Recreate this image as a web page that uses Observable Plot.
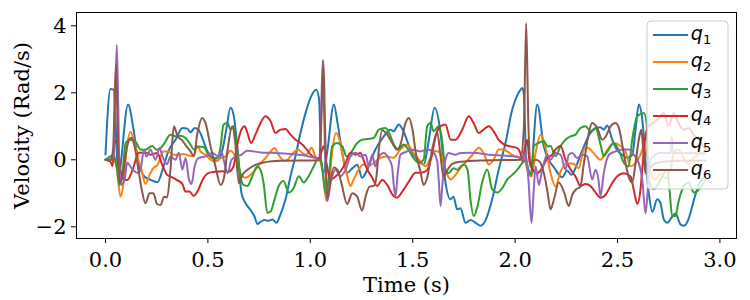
<!DOCTYPE html>
<html><head><meta charset="utf-8">
<script src="https://cdn.jsdelivr.net/npm/d3@7"></script>
<script src="https://cdn.jsdelivr.net/npm/@observablehq/plot@0.6"></script>
<style>body{margin:0;background:#fff;}</style>
</head><body><div id="chart"></div>
<script>
const names = ["q1","q2","q3","q4","q5","q6"];
const colors = ["#1f77b4","#ff7f0e","#2ca02c","#d62728","#9467bd","#8c564b"];
const xTicks = [0,0.5,1,1.5,2,2.5,3];
const yTicks = [-2,0,2,4];

const q1 = [[0,0.16],[0.024,2.11],[0.039,2.10],[0.063,-0.45],[0.110,1.65],[0.137,0.9],[0.161,-0.1],[0.190,-0.5],[0.220,-0.6],[0.254,-0.67],[0.283,-0.2],[0.308,0.27],[0.342,0.6],[0.376,0.95],[0.400,0.93],[0.415,0.82],[0.435,0.95],[0.454,0.9],[0.479,0.55],[0.498,0.25],[0.522,0.05],[0.547,-0.03],[0.571,0.3],[0.591,0.95],[0.610,1.55],[0.625,1.35],[0.643,0.42],[0.664,-1.0],[0.684,-1.3],[0.708,-1.5],[0.728,-1.7],[0.742,-1.92],[0.757,-1.85],[0.776,-1.8],[0.796,-1.82],[0.815,-1.78],[0.835,-1.88],[0.850,-1.7],[0.879,-1.18],[0.903,-0.5],[0.928,0.12],[0.952,0.8],[0.977,1.4],[1.001,1.85],[1.029,2.09],[1.043,1.8],[1.052,0.0],[1.064,-0.4],[1.084,0.3],[1.115,1.65],[1.133,1.1],[1.156,0.2],[1.180,-0.39],[1.206,-0.25],[1.229,-0.15],[1.253,-0.54],[1.274,-0.35],[1.310,0.21],[1.359,0.7],[1.392,0.9],[1.406,0.85],[1.432,1.05],[1.455,0.85],[1.489,0.31],[1.522,0.01],[1.554,-0.14],[1.579,0.6],[1.607,1.55],[1.636,0.8],[1.660,-0.68],[1.685,-1.18],[1.699,-1.1],[1.717,-1.48],[1.733,-1.45],[1.758,-1.88],[1.782,-1.8],[1.807,-1.88],[1.831,-1.97],[1.856,-1.8],[1.888,-1.18],[1.920,-0.29],[1.953,0.5],[1.986,1.5],[2.002,1.8],[2.026,2.09],[2.035,2.14],[2.043,1.95],[2.054,0.0],[2.075,-0.4],[2.108,1.65],[2.140,0.41],[2.157,0.08],[2.189,-0.22],[2.230,-0.52],[2.254,-0.32],[2.275,-0.45],[2.303,-0.12],[2.328,0.28],[2.360,0.72],[2.388,0.92],[2.417,0.97],[2.432,0.9],[2.450,1.02],[2.474,0.6],[2.499,0.28],[2.523,0.15],[2.547,0.06],[2.572,0.15],[2.588,0.9],[2.604,1.65],[2.621,1.2],[2.637,0.0],[2.653,-1.0],[2.670,-1.55],[2.694,-1.18],[2.710,-1.3],[2.726,-1.78],[2.743,-1.88],[2.767,-1.7],[2.783,-1.6],[2.808,-1.93],[2.824,-1.97],[2.848,-1.75],[2.865,-1.38],[2.881,-1.03],[2.896,-0.75],[2.930,-0.5]];

const q2 = [[0,0],[0.039,0.0],[0.054,-0.2],[0.073,-1.1],[0.088,-0.7],[0.103,0.3],[0.122,0.83],[0.142,0.5],[0.161,0.0],[0.176,-0.3],[0.195,-0.72],[0.215,-0.45],[0.234,-0.25],[0.254,-0.15],[0.283,0.25],[0.308,0.25],[0.332,0.15],[0.356,0.15],[0.381,0.17],[0.405,0.13],[0.430,0.1],[0.449,0.41],[0.464,0.25],[0.488,0.15],[0.513,0.0],[0.537,-0.05],[0.562,0.05],[0.586,0.1],[0.610,0.27],[0.625,0.2],[0.645,-0.1],[0.664,-0.45],[0.684,-0.54],[0.708,-0.45],[0.732,-0.3],[0.757,-0.1],[0.781,0.05],[0.806,0.25],[0.825,0.35],[0.845,0.15],[0.864,0.0],[0.879,-0.03],[0.903,0.1],[0.923,0.25],[0.942,0.3],[0.962,0.2],[0.981,0.15],[1.006,0.36],[1.025,0.1],[1.045,0.0],[1.059,-0.3],[1.079,-1.23],[1.093,-0.6],[1.108,0.3],[1.126,0.8],[1.142,0.6],[1.162,0.0],[1.181,-0.5],[1.196,-0.78],[1.211,-0.6],[1.235,-0.3],[1.260,-0.14],[1.279,-0.2],[1.309,-0.1],[1.343,0.06],[1.377,0.1],[1.406,0.06],[1.440,0.31],[1.473,0.46],[1.504,0.2],[1.538,-0.05],[1.563,-0.19],[1.587,0.05],[1.611,0.26],[1.636,0.2],[1.660,-0.3],[1.685,-0.59],[1.709,-0.45],[1.733,-0.25],[1.763,-0.05],[1.792,0.15],[1.823,0.36],[1.846,0.2],[1.872,-0.14],[1.895,0.0],[1.920,0.31],[1.943,0.31],[1.983,0.15],[2.026,0.05],[2.046,0.0],[2.060,-0.3],[2.080,-0.5],[2.100,0.2],[2.124,0.75],[2.148,0.4],[2.173,-0.4],[2.197,-0.8],[2.222,-0.35],[2.251,-0.1],[2.285,-0.12],[2.310,-0.25],[2.336,0.31],[2.354,0.36],[2.383,0.2],[2.417,0.0],[2.446,0.25],[2.482,0.5],[2.515,0.41],[2.539,0.25],[2.564,-0.19],[2.588,-0.1],[2.612,0.15],[2.629,0.41],[2.647,0.1],[2.661,-0.39],[2.686,-0.59],[2.710,-0.4],[2.734,-0.55],[2.759,-0.3],[2.775,0.21],[2.798,0.31],[2.823,0.05],[2.847,-0.15],[2.871,0.05],[2.905,0.2],[2.930,0.25]];

const q3 = [[0,0],[0.024,0.1],[0.039,0.15],[0.054,-0.2],[0.068,-0.75],[0.083,-0.4],[0.098,0.5],[0.122,0.6],[0.146,0.55],[0.171,0.31],[0.195,0.3],[0.228,0.41],[0.249,0.3],[0.269,0.35],[0.285,0.47],[0.317,0.75],[0.342,0.7],[0.366,0.72],[0.391,0.65],[0.415,0.45],[0.431,0.31],[0.454,0.4],[0.479,0.38],[0.503,0.15],[0.527,0.05],[0.547,0.05],[0.562,0.4],[0.576,1.05],[0.596,1.1],[0.610,0.9],[0.625,1.0],[0.640,0.5],[0.659,-0.5],[0.674,-0.75],[0.693,-0.78],[0.713,-0.55],[0.741,-0.2],[0.757,-0.3],[0.772,-0.7],[0.790,-1.58],[0.806,-1.55],[0.820,-1.3],[0.846,-0.78],[0.869,-0.63],[0.895,-0.98],[0.918,-0.85],[0.944,-0.49],[0.968,-0.68],[0.991,-0.5],[1.017,-0.19],[1.040,0.05],[1.055,-0.1],[1.074,-0.98],[1.089,-0.6],[1.107,0.41],[1.131,0.5],[1.156,0.41],[1.177,0.1],[1.196,0.2],[1.229,0.5],[1.253,0.6],[1.278,0.62],[1.309,0.65],[1.335,0.9],[1.367,0.95],[1.392,0.7],[1.408,0.46],[1.431,0.31],[1.455,0.46],[1.479,0.3],[1.504,0.05],[1.530,-0.09],[1.553,0.0],[1.571,1.0],[1.587,1.1],[1.602,0.85],[1.626,1.0],[1.641,0.7],[1.660,-0.29],[1.675,-0.4],[1.699,-0.25],[1.719,-0.3],[1.733,-0.2],[1.750,-0.14],[1.768,-0.3],[1.782,-1.18],[1.798,-1.68],[1.816,-1.4],[1.839,-0.68],[1.864,-0.29],[1.888,-0.88],[1.913,-0.98],[1.937,-0.85],[1.961,-0.59],[1.986,-0.45],[2.010,-0.3],[2.035,-0.1],[2.051,0.0],[2.065,-0.3],[2.080,-0.45],[2.091,0.41],[2.114,0.5],[2.140,0.56],[2.158,0.4],[2.173,0.41],[2.197,0.11],[2.222,0.41],[2.246,0.6],[2.271,0.7],[2.295,0.75],[2.319,0.95],[2.344,1.0],[2.368,0.85],[2.393,0.95],[2.417,0.46],[2.433,0.11],[2.456,0.3],[2.481,0.5],[2.505,0.3],[2.531,-0.09],[2.554,-0.2],[2.572,0.6],[2.596,1.3],[2.629,1.4],[2.642,1.1],[2.653,-0.59],[2.677,-0.88],[2.710,-0.6],[2.743,-0.29],[2.754,-0.9],[2.767,-1.68],[2.783,-1.68],[2.798,-1.25],[2.823,-0.8],[2.848,-0.68],[2.873,-0.98],[2.896,-0.9],[2.930,-0.59]];

const q4 = [[0,0],[0.024,-0.05],[0.034,-0.19],[0.046,0.55],[0.059,0.45],[0.073,-0.3],[0.093,-0.6],[0.107,-0.6],[0.132,-0.3],[0.163,0.21],[0.195,0.22],[0.220,0.15],[0.252,0.2],[0.277,-0.15],[0.301,-0.45],[0.317,-0.5],[0.347,-0.6],[0.375,-0.72],[0.391,-0.95],[0.410,-0.95],[0.431,-1.08],[0.449,-0.95],[0.474,-0.6],[0.504,-0.39],[0.537,-0.36],[0.570,-0.34],[0.601,-0.36],[0.625,-0.2],[0.645,0.5],[0.668,0.95],[0.679,1.0],[0.693,0.8],[0.710,0.5],[0.732,0.75],[0.757,1.1],[0.781,1.3],[0.806,1.15],[0.830,0.8],[0.855,0.9],[0.879,0.92],[0.903,0.75],[0.928,0.6],[0.952,0.5],[0.977,0.35],[1.001,0.16],[1.025,0.05],[1.045,0.03],[1.055,0.25],[1.066,0.41],[1.079,-0.1],[1.099,-0.59],[1.123,-0.5],[1.147,-0.35],[1.172,-0.1],[1.196,0.21],[1.221,0.15],[1.245,0.2],[1.260,0.0],[1.278,-0.29],[1.299,-0.5],[1.327,-0.78],[1.351,-0.6],[1.376,-0.75],[1.400,-1.03],[1.424,-1.13],[1.449,-0.95],[1.481,-0.65],[1.514,-0.39],[1.546,-0.38],[1.571,-0.3],[1.592,0.1],[1.616,0.8],[1.636,1.0],[1.660,1.05],[1.685,0.6],[1.709,0.6],[1.742,0.9],[1.774,1.3],[1.797,1.1],[1.823,0.8],[1.846,0.9],[1.872,1.0],[1.895,0.85],[1.919,0.6],[1.945,0.46],[1.978,0.4],[2.010,0.35],[2.026,0.2],[2.036,-0.05],[2.046,0.3],[2.059,0.6],[2.070,-0.05],[2.084,-0.29],[2.108,-0.4],[2.132,-0.25],[2.157,0.05],[2.181,0.15],[2.197,0.3],[2.222,0.41],[2.246,0.0],[2.271,-0.29],[2.295,-0.5],[2.319,-0.78],[2.344,-0.72],[2.368,-0.78],[2.393,-0.98],[2.417,-1.13],[2.441,-1.05],[2.466,-0.78],[2.499,-0.49],[2.531,-0.4],[2.564,-0.5],[2.580,-0.92],[2.597,-1.32],[2.612,-0.9],[2.622,-0.2],[2.632,0.5],[2.647,0.96],[2.671,1.1],[2.696,1.2],[2.726,1.4],[2.749,1.0],[2.775,1.4],[2.798,1.1],[2.824,0.9],[2.847,0.95],[2.871,0.75],[2.896,0.6],[2.930,0.31]];

const q5 = [[0,0],[0.024,0.02],[0.039,0.1],[0.046,1.5],[0.055,3.43],[0.061,2.0],[0.068,-0.2],[0.076,-0.75],[0.093,-0.6],[0.106,-0.09],[0.127,-0.25],[0.155,-0.39],[0.171,-0.3],[0.187,0.27],[0.200,0.1],[0.220,0.3],[0.244,0.0],[0.264,0.35],[0.278,0.1],[0.301,-0.13],[0.317,0.1],[0.342,0.0],[0.358,0.21],[0.375,-0.29],[0.391,0.05],[0.408,-0.6],[0.420,-0.72],[0.435,-0.2],[0.454,0.05],[0.488,0.1],[0.522,0.2],[0.552,0.1],[0.562,0.31],[0.581,-0.1],[0.596,-0.4],[0.615,0.0],[0.640,0.1],[0.664,0.15],[0.692,0.27],[0.757,0.22],[0.830,0.2],[0.903,0.17],[0.977,0.12],[1.025,0.05],[1.045,0.0],[1.052,1.2],[1.061,2.99],[1.067,1.5],[1.074,-0.3],[1.083,-1.23],[1.099,-0.7],[1.123,-0.3],[1.147,-0.49],[1.172,-0.3],[1.196,0.1],[1.221,0.21],[1.245,0.1],[1.270,0.15],[1.286,-0.19],[1.302,0.15],[1.318,-0.2],[1.335,0.1],[1.359,0.2],[1.382,0.05],[1.399,-0.2],[1.408,-0.78],[1.416,-1.08],[1.427,-0.4],[1.440,0.15],[1.473,0.25],[1.504,0.3],[1.538,0.25],[1.571,0.31],[1.597,0.25],[1.620,-0.05],[1.627,-0.6],[1.636,-1.38],[1.644,-0.8],[1.660,0.0],[1.676,0.2],[1.709,0.15],[1.733,0.2],[1.791,0.21],[1.870,0.15],[1.953,0.12],[2.017,0.08],[2.036,0.0],[2.051,0.2],[2.065,-0.6],[2.080,-1.88],[2.091,-0.9],[2.100,-0.2],[2.116,-0.75],[2.132,-0.3],[2.157,0.15],[2.173,0.0],[2.197,0.2],[2.222,0.15],[2.246,-0.29],[2.262,0.15],[2.279,0.2],[2.303,0.05],[2.328,0.15],[2.352,0.1],[2.376,-0.59],[2.393,-0.3],[2.407,-0.6],[2.417,-1.08],[2.433,-0.4],[2.458,0.15],[2.490,0.25],[2.523,0.31],[2.555,0.31],[2.580,0.15],[2.604,-0.1],[2.621,-0.6],[2.637,-1.6],[2.649,-0.8],[2.661,0.0],[2.677,0.11],[2.710,0.21],[2.759,0.2],[2.764,0.7],[2.771,0.2],[2.808,0.2],[2.866,0.2],[2.930,0.18]];

const q6 = [[0,0],[0.024,-0.02],[0.037,0.3],[0.051,2.85],[0.061,0.5],[0.068,-0.7],[0.083,-0.5],[0.106,0.41],[0.125,0.66],[0.142,0.4],[0.163,-0.39],[0.179,-0.95],[0.195,-1.3],[0.215,-1.0],[0.234,-1.0],[0.252,-1.32],[0.269,-1.35],[0.286,-1.1],[0.301,-1.12],[0.317,-0.3],[0.334,1.0],[0.352,0.7],[0.371,0.6],[0.396,0.4],[0.415,0.25],[0.431,0.11],[0.449,0.8],[0.472,1.25],[0.488,1.1],[0.513,0.4],[0.537,-0.2],[0.562,-0.75],[0.578,-0.55],[0.596,0.3],[0.619,1.0],[0.632,0.6],[0.651,-0.7],[0.669,-0.45],[0.693,-0.3],[0.732,-0.15],[0.781,-0.07],[0.855,-0.03],[0.952,-0.02],[1.040,-0.02],[1.050,0.5],[1.064,2.95],[1.072,1.0],[1.083,-1.15],[1.099,-0.6],[1.115,-0.23],[1.133,-0.3],[1.152,-0.7],[1.180,-1.32],[1.205,-1.0],[1.229,-1.1],[1.253,-1.52],[1.270,-1.1],[1.289,-0.8],[1.310,-0.78],[1.323,-0.5],[1.333,0.2],[1.351,0.88],[1.376,0.75],[1.400,0.5],[1.424,0.3],[1.440,0.45],[1.465,1.1],[1.481,1.25],[1.499,0.9],[1.514,0.25],[1.538,-0.35],[1.553,-0.75],[1.572,-0.5],[1.595,0.3],[1.620,0.82],[1.636,0.1],[1.650,-0.5],[1.670,-0.3],[1.694,-0.12],[1.733,-0.06],[1.831,-0.02],[1.929,-0.01],[2.026,0.0],[2.043,1.0],[2.054,4.08],[2.065,1.0],[2.075,-0.1],[2.100,0.0],[2.119,-0.05],[2.140,-0.39],[2.158,-0.95],[2.173,-1.48],[2.189,-1.2],[2.213,-0.68],[2.238,-0.95],[2.262,-1.38],[2.279,-1.05],[2.295,-0.9],[2.319,-0.8],[2.336,-0.1],[2.360,0.8],[2.376,1.1],[2.401,0.95],[2.425,0.6],[2.441,0.68],[2.466,1.0],[2.490,1.1],[2.507,0.95],[2.523,0.45],[2.539,-0.09],[2.554,-0.5],[2.572,-0.68],[2.588,-0.1],[2.604,0.6],[2.616,0.9],[2.627,0.2],[2.637,-0.4],[2.651,-0.3],[2.686,-0.1],[2.734,-0.05],[2.808,-0.03],[2.930,-0.03]];

const series = [q1,q2,q3,q4,q5,q6];
const rows = series.flatMap((s,i) => s.map(([t,v]) => ({t, v, k: names[i]})));
const fmtY = d => (d < 0 ? "\u2212" : "") + Math.abs(d);

const plot = Plot.plot({
  width: 750, height: 300,
  marginLeft: 76, marginRight: 14, marginTop: 12, marginBottom: 62,
  style: {fontFamily: "'DejaVu Serif', serif", fontSize: "21px", background: "white", color: "black", overflow: "visible"},
  x: {domain: [-0.1416, 3.081]},
  y: {domain: [-2.35, 4.397]},
  color: {domain: names, range: colors},
  marks: [
    Plot.lineY(rows, {x: "t", y: "v", z: "k", stroke: "k", strokeWidth: 2, curve: "monotone-x"}),
    Plot.axisX({ticks: xTicks, tickFormat: d => d.toFixed(1), tickSize: 5, tickPadding: 9, label: "Time (s)", labelAnchor: "center", labelArrow: "none", labelOffset: 53}),
    Plot.axisY({ticks: yTicks, tickFormat: fmtY, tickSize: 5, tickPadding: 5, label: "Velocity (Rad/s)", labelAnchor: "center", labelArrow: "none", labelOffset: 62}),
    Plot.frame({stroke: "black", strokeWidth: 1})
  ]
});
document.getElementById("chart").appendChild(plot);

// legend (matplotlib style, upper right)
const svg = d3.select(plot);
const lg = svg.append("g").attr("class", "legend");
lg.append("rect").attr("x", 647).attr("y", 21).attr("width", 81).attr("height", 168)
  .attr("rx", 4).attr("fill", "white").attr("fill-opacity", 0.8)
  .attr("stroke", "#cccccc").attr("stroke-width", 1);
names.forEach((n, i) => {
  const y = 35 + i * 27;
  lg.append("line").attr("x1", 653).attr("x2", 688).attr("y1", y).attr("y2", y)
    .attr("stroke", colors[i]).attr("stroke-width", 2);
  const tx = lg.append("text").attr("x", 701).attr("y", y + 5)
    .attr("font-family", "'DejaVu Sans', sans-serif").attr("font-size", 19).attr("fill", "black");
  tx.append("tspan").attr("font-style", "italic").text("q");
  tx.append("tspan").attr("font-size", 13).attr("dy", 4).text(n.slice(1));
});
</script>
</body></html>
